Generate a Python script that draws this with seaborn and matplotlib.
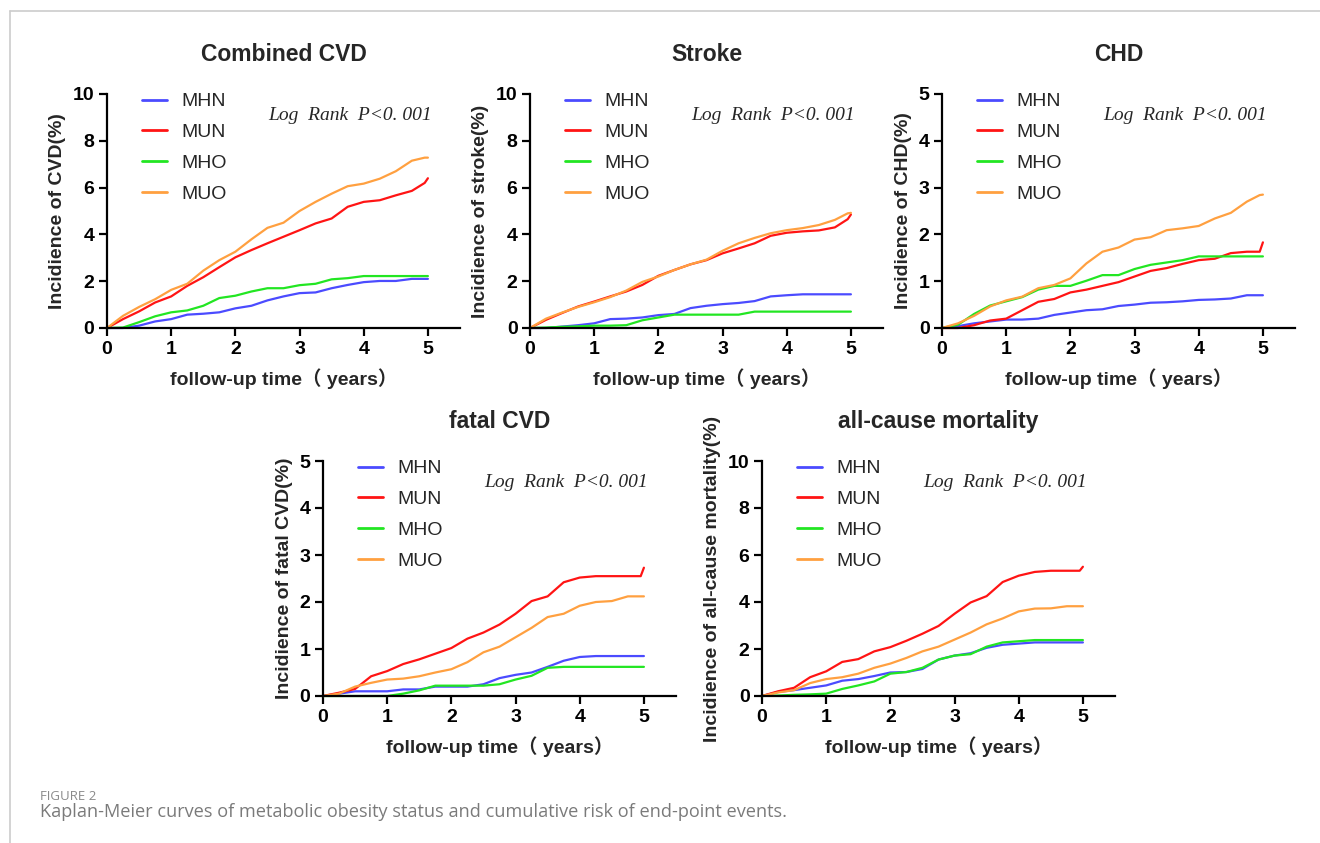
import numpy as np
import pandas as pd
import matplotlib.pyplot as plt
import matplotlib.lines as mlines
import seaborn as sns

sns.set_theme(style="ticks")
plt.rcParams['font.family'] = ['Liberation Sans', 'Noto Sans CJK SC', 'DejaVu Sans']

# follow-up grid (years) shared by all curves
time = [0, 0.25, 0.5, 0.75, 1.0, 1.25, 1.5, 1.75, 2.0, 2.25, 2.5, 2.75,
        3.0, 3.25, 3.5, 3.75, 4.0, 4.25, 4.5, 4.75, 4.95, 5.0]

groups = ["MHN", "MUN", "MHO", "MUO"]
colors = {"MHN": "#4b4bff", "MUN": "#ff1414", "MHO": "#22e622", "MUO": "#ffa040"}

# Combined CVD
cvd_mhn = [0, 0.0, 0.1, 0.28, 0.38, 0.57, 0.61, 0.67, 0.84, 0.95, 1.18, 1.35,
           1.49, 1.52, 1.7, 1.84, 1.96, 2.01, 2.01, 2.1, 2.1, 2.1]
cvd_mun = [0, 0.38, 0.71, 1.09, 1.35, 1.8, 2.17, 2.6, 3.02, 3.33, 3.62, 3.9,
           4.18, 4.47, 4.68, 5.18, 5.39, 5.46, 5.67, 5.86, 6.2, 6.4]
cvd_mho = [0, 0.02, 0.25, 0.5, 0.67, 0.75, 0.95, 1.28, 1.38, 1.56, 1.7, 1.7,
           1.83, 1.89, 2.08, 2.13, 2.22, 2.22, 2.22, 2.22, 2.22, 2.22]
cvd_muo = [0, 0.52, 0.9, 1.23, 1.63, 1.89, 2.45, 2.9, 3.26, 3.79, 4.28, 4.5,
           5.0, 5.39, 5.74, 6.06, 6.17, 6.38, 6.7, 7.15, 7.28, 7.28]

# Stroke
stk_mhn = [0, 0.0, 0.06, 0.12, 0.2, 0.38, 0.4, 0.45, 0.55, 0.6, 0.85, 0.95,
           1.02, 1.07, 1.15, 1.35, 1.4, 1.44, 1.44, 1.44, 1.44, 1.44]
stk_mun = [0, 0.35, 0.64, 0.92, 1.13, 1.35, 1.56, 1.84, 2.23, 2.48, 2.72, 2.9,
           3.19, 3.4, 3.62, 3.94, 4.07, 4.13, 4.17, 4.3, 4.65, 4.85]
stk_mho = [0, 0.02, 0.05, 0.07, 0.1, 0.1, 0.12, 0.33, 0.45, 0.57, 0.57, 0.57,
           0.57, 0.57, 0.7, 0.7, 0.7, 0.7, 0.7, 0.7, 0.7, 0.7]
stk_muo = [0, 0.4, 0.66, 0.9, 1.1, 1.32, 1.6, 1.97, 2.2, 2.48, 2.72, 2.92,
           3.3, 3.62, 3.85, 4.05, 4.18, 4.27, 4.4, 4.62, 4.9, 4.92]

# CHD
chd_mhn = [0, 0.04, 0.1, 0.14, 0.18, 0.18, 0.2, 0.28, 0.33, 0.38, 0.4, 0.47,
           0.5, 0.54, 0.55, 0.57, 0.6, 0.61, 0.63, 0.7, 0.7, 0.7]
chd_mun = [0, 0.0, 0.06, 0.16, 0.2, 0.38, 0.56, 0.62, 0.76, 0.82, 0.9, 0.98,
           1.1, 1.22, 1.28, 1.37, 1.45, 1.48, 1.6, 1.63, 1.63, 1.83]
chd_mho = [0, 0.07, 0.3, 0.48, 0.57, 0.66, 0.82, 0.9, 0.9, 1.01, 1.13, 1.13,
           1.26, 1.35, 1.4, 1.45, 1.53, 1.53, 1.53, 1.53, 1.53, 1.53]
chd_muo = [0, 0.1, 0.26, 0.46, 0.59, 0.67, 0.85, 0.92, 1.06, 1.38, 1.63, 1.72,
           1.89, 1.94, 2.09, 2.13, 2.18, 2.34, 2.46, 2.7, 2.84, 2.85]

# fatal CVD
fat_mhn = [0, 0.05, 0.1, 0.1, 0.1, 0.14, 0.14, 0.2, 0.2, 0.2, 0.25, 0.38,
           0.45, 0.5, 0.62, 0.75, 0.83, 0.85, 0.85, 0.85, 0.85, 0.85]
fat_mun = [0, 0.07, 0.15, 0.42, 0.53, 0.68, 0.78, 0.9, 1.02, 1.22, 1.35, 1.52,
           1.75, 2.02, 2.12, 2.42, 2.52, 2.55, 2.55, 2.55, 2.55, 2.73]
fat_mho = [0, 0.0, 0.0, 0.0, 0.0, 0.05, 0.12, 0.22, 0.22, 0.22, 0.22, 0.25,
           0.35, 0.43, 0.6, 0.62, 0.62, 0.62, 0.62, 0.62, 0.62, 0.62]
fat_muo = [0, 0.05, 0.2, 0.28, 0.35, 0.37, 0.42, 0.5, 0.57, 0.72, 0.93, 1.05,
           1.25, 1.45, 1.68, 1.75, 1.92, 2.0, 2.02, 2.12, 2.12, 2.12]

# all-cause mortality
acm_mhn = [0, 0.17, 0.25, 0.35, 0.45, 0.65, 0.72, 0.85, 1.0, 1.02, 1.15, 1.55,
           1.72, 1.82, 2.05, 2.18, 2.23, 2.28, 2.28, 2.28, 2.28, 2.28]
acm_mun = [0, 0.2, 0.35, 0.8, 1.05, 1.45, 1.57, 1.9, 2.08, 2.35, 2.65, 2.98,
           3.5, 3.98, 4.25, 4.85, 5.12, 5.28, 5.33, 5.33, 5.33, 5.5]
acm_mho = [0, 0.02, 0.05, 0.07, 0.1, 0.3, 0.45, 0.62, 0.95, 1.02, 1.2, 1.55,
           1.72, 1.78, 2.1, 2.28, 2.33, 2.38, 2.38, 2.38, 2.38, 2.38]
acm_muo = [0, 0.15, 0.25, 0.55, 0.72, 0.8, 0.95, 1.2, 1.38, 1.62, 1.9, 2.1,
           2.4, 2.7, 3.05, 3.3, 3.6, 3.72, 3.73, 3.82, 3.82, 3.82]

panels = [
    ("Combined CVD", "Incidience of CVD(%)", 10, [cvd_mhn, cvd_mun, cvd_mho, cvd_muo]),
    ("Stroke", "Incidience of stroke(%)", 10, [stk_mhn, stk_mun, stk_mho, stk_muo]),
    ("CHD", "Incidience of CHD(%)", 5, [chd_mhn, chd_mun, chd_mho, chd_muo]),
    ("fatal CVD", "Incidience of fatal CVD(%)", 5, [fat_mhn, fat_mun, fat_mho, fat_muo]),
    ("all-cause mortality", "Incidience of all-cause mortality(%)", 10,
     [acm_mhn, acm_mun, acm_mho, acm_muo]),
]

# axes boxes in pixels (left, top of y-max, bottom of y=0)
W, H = 1320, 843
boxes = [(107, 94, 328), (530, 94, 328), (942, 94, 328),
         (323, 461, 696), (762, 461, 696)]
ax_w = 353

fig = plt.figure(figsize=(W / 100, H / 100), dpi=100)
fig.patch.set_facecolor("white")

for (title, ylab, ymax, series), (left, top, bottom) in zip(panels, boxes):
    ax = fig.add_axes([left / W, (H - bottom) / H, ax_w / W, (bottom - top) / H])
    df = pd.DataFrame({
        "time": np.tile(time, 4),
        "inc": np.concatenate(series),
        "group": np.repeat(groups, len(time)),
    })
    sns.lineplot(data=df, x="time", y="inc", hue="group", hue_order=groups,
                 palette=colors, estimator=None, linewidth=1.6, ax=ax,
                 legend=False, clip_on=False)
    ax.set_xlim(0, 5.5)
    ax.set_ylim(0, ymax)
    ax.set_xticks(range(6))
    ax.set_yticks(np.linspace(0, ymax, 6))
    ax.set_yticklabels([f"{v:g}" for v in np.linspace(0, ymax, 6)])
    sns.despine(ax=ax)
    for s in ("left", "bottom"):
        ax.spines[s].set_linewidth(1.6)
        ax.spines[s].set_color("black")
    ax.tick_params(direction="out", length=6, width=1.6, colors="black",
                   labelsize=14, pad=3)
    for lab in ax.get_xticklabels() + ax.get_yticklabels():
        lab.set_fontweight("bold")
    ax.set_xlabel("follow-up time（ years）", fontsize=14, fontweight="bold",
                  labelpad=8)
    ax.set_ylabel(ylab, fontsize=14, fontweight="bold", labelpad=5)
    ax.set_title(title, fontsize=16.5, fontweight="bold", pad=24)

    handles = [mlines.Line2D([], [], color=colors[g], linewidth=2) for g in groups]
    ax.legend(handles, groups, loc="upper left", bbox_to_anchor=(0.099, 1.005),
              frameon=False, fontsize=14, handlelength=1.3, handletextpad=0.75,
              labelspacing=0.68, borderpad=0, borderaxespad=0)
    ax.text(0.456, 0.91, "Log  Rank  P<0. 001", transform=ax.transAxes,
            ha="left", va="center", fontsize=14, style="italic",
            family=["Liberation Serif", "DejaVu Serif"])

# page frame lines
fig.add_artist(mlines.Line2D([9.5 / W, 9.5 / W], [0, 1 - 11 / H], color="#cccccc",
                             linewidth=1.2))
fig.add_artist(mlines.Line2D([9.5 / W, 1], [1 - 11 / H, 1 - 11 / H], color="#cccccc",
                             linewidth=1.2))

fig.text(40 / W, 1 - 797 / H, "FIGURE 2", fontsize=9.5, color="#8a8a8a",
         va="center", ha="left", family=["Open Sans", "DejaVu Sans"])
fig.text(40 / W, 1 - 812 / H,
         "Kaplan-Meier curves of metabolic obesity status and cumulative risk of end-point events.",
         fontsize=13.1, color="#7a7a7a", va="center", ha="left",
         family=["Open Sans", "DejaVu Sans"])

fig.savefig("out.png", dpi=100)
